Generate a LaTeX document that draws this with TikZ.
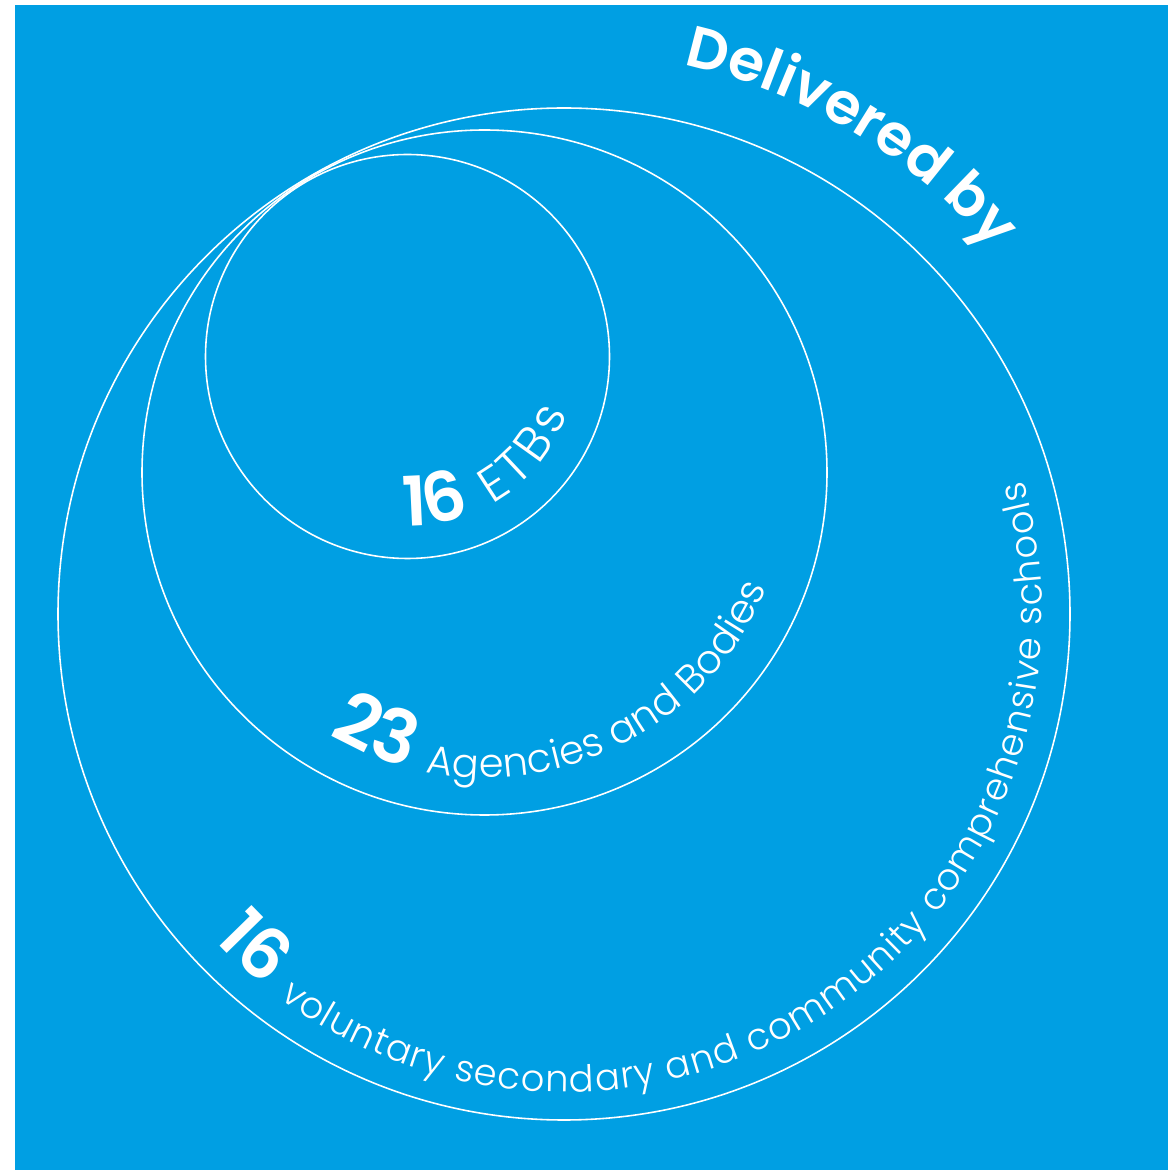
\documentclass[tikz,border=0pt]{standalone}
\usepackage{fontspec}
\setmainfont{Poppins}[UprightFont=* Light, BoldFont=* SemiBold]
\usetikzlibrary{decorations.text, calc}
\definecolor{sky}{HTML}{009FE3}

\begin{document}
\begin{tikzpicture}[
    ring/.style={white, line width=0.9pt},
    curved/.style={decorate, decoration={text along path, text align=center, text color=white, text={#1}}},
]
\useasboundingbox (0,0) rectangle (23.36,23.4);
\fill[sky] (0.3,0) rectangle (23.36,23.3);

% === CIRCLES (tangent inside one another) ===
\foreach \name/\x/\y/\r in {cOut/11.28/11.12/10.12, cMid/9.69/13.95/6.85, cIn/8.15/16.27/4.04}{
    \coordinate (\name) at (\x,\y);
    \draw[ring] (\name) circle (\r);
}

% === TITLE outside the big circle ===
\path[curved={|\fontsize{33pt}{33pt}\selectfont\bfseries|Delivered by}]
    ($(cOut)+(109:11.24)$) arc[start angle=109, end angle=9, radius=11.24];

% === LABELS inside each circle (kern = wider tracking) ===
\path[curved={|\fontsize{39pt}{39pt}\selectfont\bfseries|16|\fontsize{28pt}{28pt}\selectfont\kern3pt| ETBs}]
    ($(cIn)+(214.5:3.4)$) arc[start angle=214.5, end angle=394.5, radius=3.4];
\path[curved={|\fontsize{42pt}{42pt}\selectfont\bfseries|23 |\fontsize{22.7pt}{22.7pt}\selectfont\kern0.2pt|Agencies and Bodies}]
    ($(cMid)+(198.5:6.1)$) arc[start angle=198.5, end angle=378.5, radius=6.1];
\path[curved={|\fontsize{40pt}{40pt}\selectfont\bfseries|16 |\fontsize{21pt}{21pt}\selectfont\kern0.7pt|voluntary secondary and community comprehensive schools}]
    ($(cOut)+(209.5:9.56)$) arc[start angle=209.5, end angle=389.5, radius=9.56];

\end{tikzpicture}
\end{document}
